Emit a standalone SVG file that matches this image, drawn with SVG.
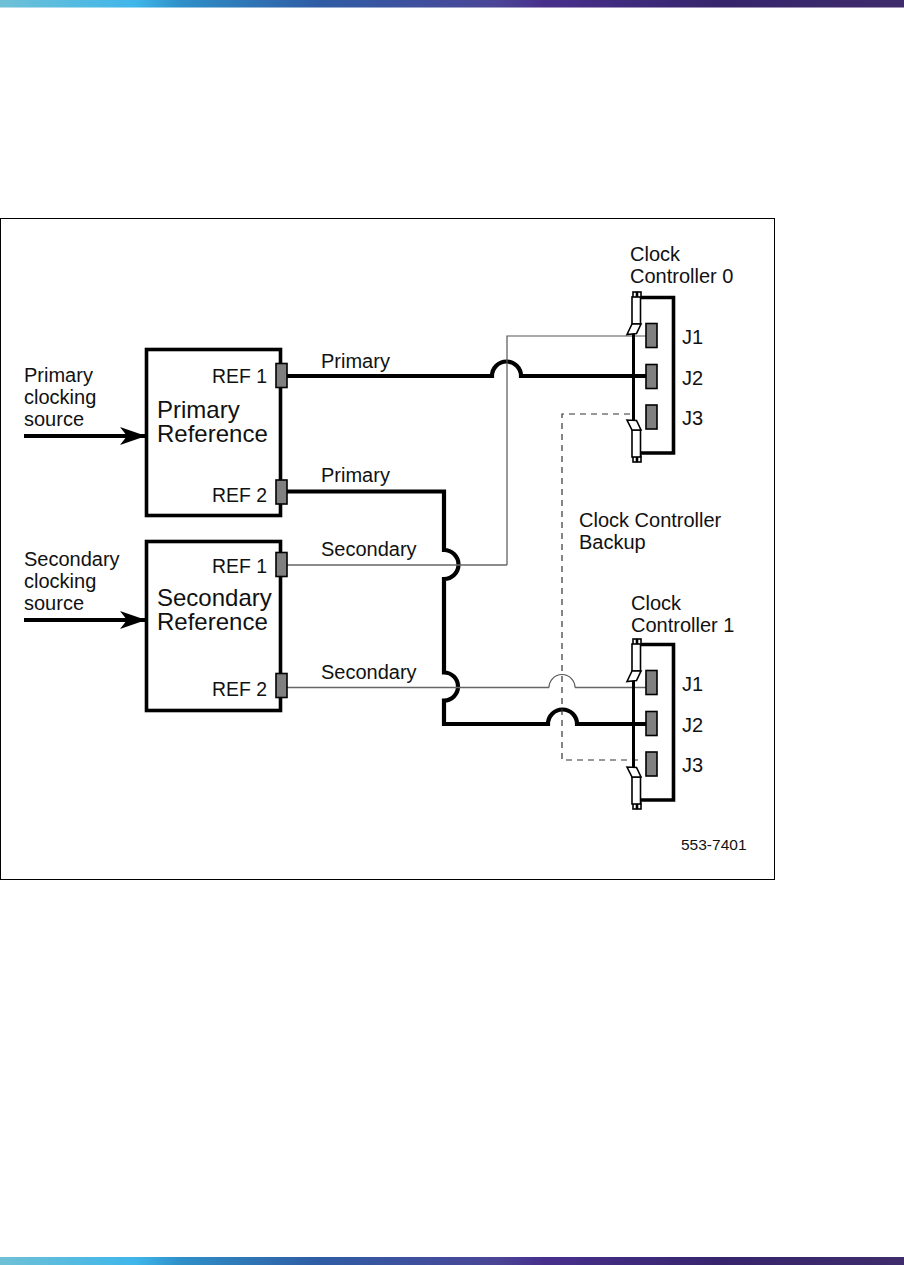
<svg xmlns="http://www.w3.org/2000/svg" width="904" height="1265" viewBox="0 0 904 1265">
<style>
text{font-family:"Liberation Sans",Arial,sans-serif;font-size:20px;fill:#111}
.big{font-size:24px}
.ref{font-size:19.400px}
.small{font-size:15.500px}
.thick{fill:none;stroke:#000;stroke-width:4.200}
.thin{fill:none;stroke:#666;stroke-width:1.6}
.hair{fill:none;stroke:#555;stroke-width:1.200}
.dash{fill:none;stroke:#333;stroke-width:1.200;stroke-dasharray:6 5}
.box{fill:#fff;stroke:#000;stroke-width:3.600}
.cbox{fill:none;stroke:#000;stroke-width:3.600}
.port{fill:#808080;stroke:#000;stroke-width:1.600}
.lever{fill:#fff;stroke:#000;stroke-width:1.600}
</style>
<defs>
<linearGradient id="bar" x1="0" x2="1" y1="0" y2="0">
<stop offset="0" stop-color="#6fc0d6"/><stop offset=".15" stop-color="#3fb6ea"/><stop offset=".2" stop-color="#2f8fc8"/><stop offset=".35" stop-color="#2f5da5"/><stop offset=".55" stop-color="#4b4596"/><stop offset=".6" stop-color="#47308c"/><stop offset=".8" stop-color="#36256c"/><stop offset="1" stop-color="#3e2c6c"/>
</linearGradient>
<marker id="arrow" markerUnits="userSpaceOnUse" markerWidth="28" markerHeight="20" refX="26" refY="10" orient="auto"><path d="M0 1 L26 10 L0 19 L7 10 Z" fill="#000"/></marker>
<g id="ctrl">
<path class="cbox" d="M640 297.500H673.500V453H640" />
<path d="M633.500 334V421" fill="none" stroke="#000" stroke-width="3"/>
<rect class="lever" x="633" y="292" width="3.500" height="6"/><rect class="lever" x="637.500" y="292" width="3.500" height="6"/>
<rect class="lever" x="632" y="297" width="8.500" height="27"/>
<path class="lever" d="M632 324H641L636.500 333.500 627 334.500Z"/>
<rect class="lever" x="633" y="456" width="3.500" height="6"/><rect class="lever" x="637.500" y="456" width="3.500" height="6"/>
<rect class="lever" x="632" y="430" width="8.500" height="27"/>
<path class="lever" d="M632 430H641L636.500 420.500 627 420Z"/>
</g>
<g id="ports">
<rect class="port" x="646" y="323.500" width="11" height="24"/>
<rect class="port" x="646" y="364.500" width="11" height="24"/>
<rect class="port" x="646" y="405" width="11" height="24"/>
</g>
</defs>
<rect id="top-bar" x="0" y="0" width="904" height="7.500" fill="url(#bar)"/>
<rect id="bottom-bar" x="0" y="1257" width="904" height="8" fill="url(#bar)"/>
<rect id="frame" x="0.500" y="218.500" width="774" height="661" fill="#fff" stroke="#000" stroke-width="1"/>

<g id="connectors">
<path class="thick" d="M287 376H492A14.500 14.500 0 0 1 521 376H646"/>
<path class="thick" d="M287 491.500H444V550A14.500 14.500 0 0 1 444 579V672.500A14 14 0 0 1 444 700.500V724H548A14.500 14.500 0 0 1 577 724H646"/>
<path class="hair" d="M507 565V336H646"/>
<path class="thin" d="M287 565H507"/>
<path class="thin" d="M287 687.500H549M575 687.500H646"/>
<path class="hair" d="M549 687.500A13 13 0 0 1 575 687.500"/>
<path class="dash" d="M630 414H562V760H643"/>
<path class="thick" d="M24 436H146" marker-end="url(#arrow)"/>
<path class="thick" d="M24 620H146" marker-end="url(#arrow)"/>
</g>

<g id="primary-reference">
<rect class="box" x="146.500" y="349.500" width="134" height="166"/>
<rect class="port" x="276" y="363.500" width="11" height="24"/>
<rect class="port" x="276" y="480" width="11" height="24"/>
<text class="ref" x="212" y="382.500">REF 1</text>
<text class="ref" x="212" y="501.500">REF 2</text>
<text class="big" x="157" y="417.500">Primary</text>
<text class="big" x="157" y="442">Reference</text>
</g>
<g id="secondary-reference">
<rect class="box" x="146.500" y="541.500" width="134" height="169"/>
<rect class="port" x="276" y="552.500" width="11" height="24"/>
<rect class="port" x="276" y="673.500" width="11" height="24"/>
<text class="ref" x="212" y="572.500">REF 1</text>
<text class="ref" x="212" y="695.500">REF 2</text>
<text class="big" x="157" y="605.500">Secondary</text>
<text class="big" x="157" y="630">Reference</text>
</g>
<g id="clock-controller-0">
<use href="#ctrl"/>
<use href="#ports"/>
<text x="630" y="261">Clock</text>
<text x="630" y="283">Controller 0</text>
<text x="682" y="344">J1</text>
<text x="682" y="385">J2</text>
<text x="682" y="425">J3</text>
</g>
<g id="clock-controller-1">
<use href="#ctrl" y="347"/>
<use href="#ports" y="347"/>
<text x="631" y="610">Clock</text>
<text x="631" y="632">Controller 1</text>
<text x="682" y="691">J1</text>
<text x="682" y="732">J2</text>
<text x="682" y="772">J3</text>
</g>
<g id="labels">
<text x="24" y="382">Primary</text>
<text x="24" y="404">clocking</text>
<text x="24" y="426">source</text>
<text x="24" y="566">Secondary</text>
<text x="24" y="588">clocking</text>
<text x="24" y="610">source</text>
<text x="321" y="368">Primary</text>
<text x="321" y="482">Primary</text>
<text x="321" y="556">Secondary</text>
<text x="321" y="679">Secondary</text>
<text x="579" y="527">Clock Controller</text>
<text x="579" y="549">Backup</text>
<text class="small" x="681" y="849.500">553-7401</text>
</g>
</svg>
